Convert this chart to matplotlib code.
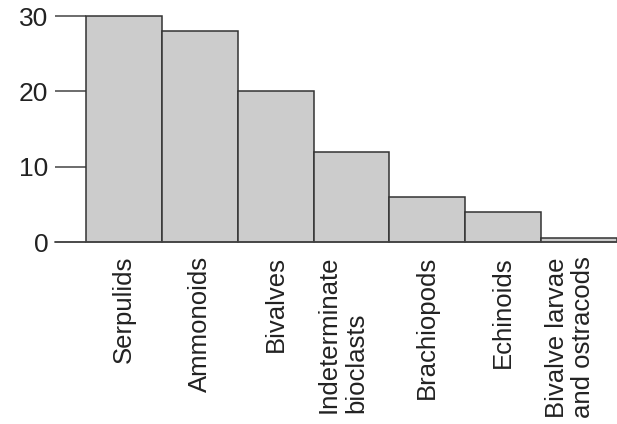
import numpy as np
import matplotlib
matplotlib.use('Agg')
import matplotlib.pyplot as plt
import matplotlib.transforms as mtransforms

plt.rcParams['font.family'] = ['Liberation Sans', 'DejaVu Sans']

# bioclast categories and their abundance
categories = ['Serpulids', 'Ammonoids', 'Bivalves', 'Indeterminate\nbioclasts',
              'Brachiopods', 'Echinoids', 'Bivalve larvae\nand ostracods']
values = [30, 28, 20, 12, 6, 4, 0.5]
yticks = [0, 10, 20, 30]

fig = plt.figure(figsize=(6.17, 4.24), dpi=100)
ax = fig.add_axes([86/617, 182/424, 531/617, 226/424])

x = np.arange(len(categories))
ax.bar(x, values, width=1.0, color='#cccccc', edgecolor='#333333',
       linewidth=1.1, clip_on=False, zorder=2)

ax.set_xlim(-0.5, len(categories) - 0.5)
ax.set_ylim(0, 30)

# no spines, just the long tick marks and a baseline
for s in ax.spines.values():
    s.set_visible(False)
ax.axhline(0, xmin=-31/531, xmax=1, color='#444444', linewidth=1.1,
           clip_on=False, zorder=3)

ax.set_yticks(yticks)
ax.tick_params(axis='y', length=22, width=1.1, color='#444444', pad=5,
               labelsize=19, labelcolor='#222222')

ax.set_xticks(x)
labels = ax.set_xticklabels(categories, rotation=90, ha='center', va='top',
                            multialignment='left', fontsize=18.5,
                            color='#222222', linespacing=1.15)
ax.tick_params(axis='x', length=0, pad=10)

# two-line labels sit a bit left of their bar centre
shift = mtransforms.ScaledTranslation(-9/100, 0, fig.dpi_scale_trans)
for lab in labels:
    if '\n' in lab.get_text():
        lab.set_transform(lab.get_transform() + shift)

plt.savefig('out.png', dpi=100)
